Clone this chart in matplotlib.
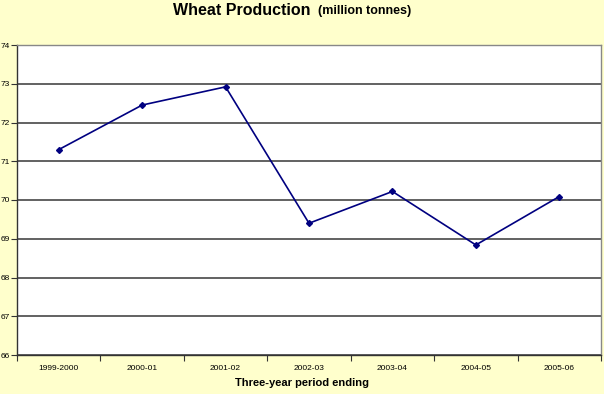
import matplotlib.pyplot as plt
import numpy as np

periods = ['1999-2000', '2000-01', '2001-02', '2002-03', '2003-04', '2004-05', '2005-06']
production = [71.30, 72.45, 72.92, 69.40, 70.22, 68.84, 70.09]

plt.rcParams['font.family'] = ['Liberation Sans', 'DejaVu Sans']

fig = plt.figure(figsize=(6.04, 3.94), dpi=100, facecolor='#FFFFCC')
ax = fig.add_axes([17 / 604, 1 - 355 / 394, 584 / 604, 310 / 394])
ax.set_facecolor('white')

x = np.arange(len(periods))
ax.plot(x, production, color='#000080', lw=1.2, marker='D', ms=3,
        markerfacecolor='#000080', markeredgecolor='#000080', zorder=3)

ax.set_xlim(-0.5, len(periods) - 0.5)
ax.set_ylim(66, 74)
ax.set_yticks(np.arange(66, 75, 1))
ax.yaxis.grid(True, color='#555555', lw=1.3)
ax.set_axisbelow(True)

ax.set_xticks(x)
ax.set_xticklabels(periods, fontsize=6)
ax.set_xticks(np.arange(-0.5, len(periods), 1), minor=True)
ax.tick_params(axis='x', which='major', length=0, pad=7)
ax.tick_params(axis='x', which='minor', length=4, width=0.8, color='#333333')
ax.tick_params(axis='y', labelsize=6, length=4, width=0.8, pad=1, color='#333333')

for s in ax.spines.values():
    s.set_color('#888888')
    s.set_linewidth(1)
ax.spines['left'].set_color('#333333')
ax.spines['bottom'].set_color('#333333')

fig.text(0.286, 0.993, 'Wheat Production', fontsize=11.5, fontweight='bold', ha='left', va='top')
fig.text(0.527, 0.988, '(million tonnes)', fontsize=9, fontweight='bold', ha='left', va='top')
fig.text(0.5, 0.028, 'Three-year period ending', fontsize=8, fontweight='bold', ha='center', va='center')

fig.savefig('out.png', dpi=100, facecolor=fig.get_facecolor())
